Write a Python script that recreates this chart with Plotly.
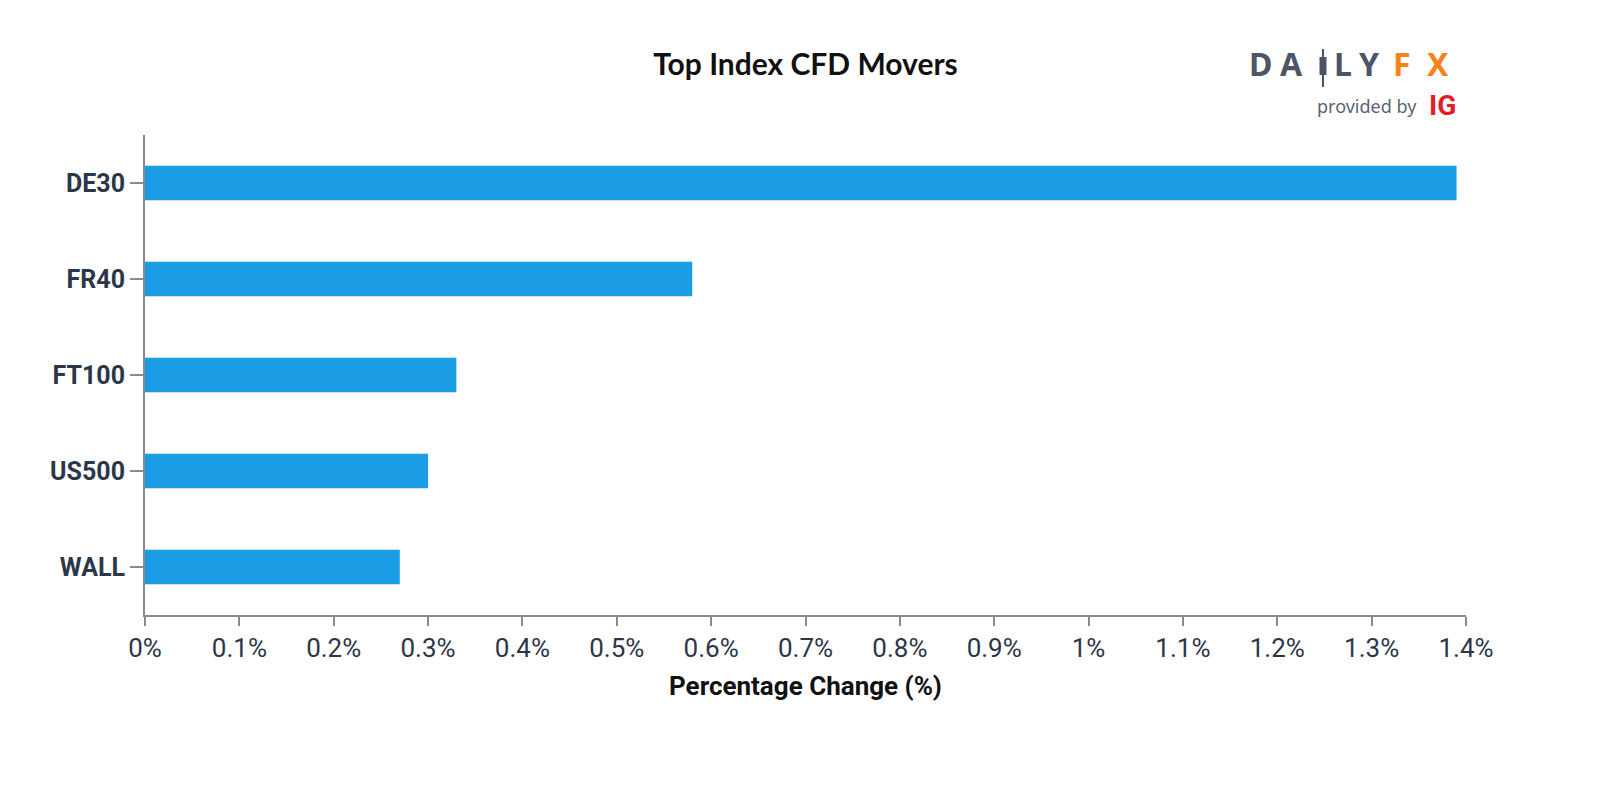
import plotly.graph_objects as go

# ---- data ----
categories = ["DE30", "FR40", "FT100", "US500", "WALL"]
pct_change = [1.39, 0.58, 0.33, 0.30, 0.27]
x_tick_vals = [0, 0.1, 0.2, 0.3, 0.4, 0.5, 0.6, 0.7, 0.8, 0.9, 1.0, 1.1, 1.2, 1.3, 1.4]
x_tick_labels = ["0%", "0.1%", "0.2%", "0.3%", "0.4%", "0.5%", "0.6%", "0.7%",
                 "0.8%", "0.9%", "1%", "1.1%", "1.2%", "1.3%", "1.4%"]

W, H = 1600, 800
L, R, T, B = 137, 142, 127, 193
PW, PH = W - L - R, H - T - B

def px(x):
    return (x - L) / PW

def py(y):
    return (H - B - y) / PH

AXIS = "#8a8a8a"
LABEL = "#2b3749"
BAR = "#1a9de5"

fig = go.Figure()
fig.add_trace(go.Bar(
    x=pct_change, y=categories, orientation="h",
    marker=dict(color=BAR, line=dict(width=0)),
    width=0.36, hoverinfo="skip",
))

fig.update_layout(
    width=W, height=H,
    margin=dict(l=L, r=R, t=T, b=B, autoexpand=False),
    paper_bgcolor="white", plot_bgcolor="white",
    showlegend=False,
    title=dict(text="Top Index CFD Movers", x=0.5, xref="paper", xanchor="center",
               y=1 - 56 / H, yref="container", yanchor="middle",
               font=dict(family="Lato", size=30, color="#111111", weight="bold")),
    xaxis=dict(
        range=[0, 1.4], tickmode="array", tickvals=x_tick_vals, ticktext=x_tick_labels,
        showgrid=False, zeroline=False, showline=True, linecolor=AXIS, linewidth=2,
        ticks="outside", ticklen=9, tickwidth=1.5, tickcolor=AXIS,
        tickfont=dict(family="Roboto", size=26, color=LABEL),
        title=dict(text="Percentage Change (%)", standoff=15,
                   font=dict(family="Roboto", size=26, color="#111111", weight="bold")),
        fixedrange=True,
    ),
    yaxis=dict(
        type="category", categoryorder="array", categoryarray=categories,
        range=[4.5, -0.5],
        showgrid=False, zeroline=False, showline=True, linecolor=AXIS, linewidth=2,
        ticks="outside", ticklen=13, tickwidth=1.5, tickcolor=AXIS,
        tickfont=dict(family="Roboto", size=25, color=LABEL, weight="bold"),
        fixedrange=True,
    ),
)

# outer ticks at the ends of the y axis (d3-style domain)
for yd in (0, 1):
    fig.add_shape(type="line", xref="x", yref="y domain", xsizemode="pixel", xanchor=0,
                  x0=-13, x1=0, y0=yd, y1=yd, line=dict(color=AXIS, width=2))

# ---- DailyFX logo ----
GRAY = "#4b5567"
ORANGE = "#f7821b"
letters = [("D", 1252, GRAY), ("A", 1283, GRAY), ("L", 1335, GRAY),
           ("Y", 1361, GRAY), ("F", 1394, ORANGE), ("X", 1430, ORANGE)]
for ch, xc, col in letters:
    fig.add_annotation(text=ch, xref="paper", yref="paper", x=px(xc), y=py(55),
                       xanchor="center", yanchor="middle", showarrow=False,
                       font=dict(family="Noto Sans", size=32, color=col, weight="bold"))
# candlestick "I"
fig.add_shape(type="line", xref="paper", yref="paper", x0=px(1315), x1=px(1315),
              y0=py(41), y1=py(79), line=dict(color=GRAY, width=2))
fig.add_shape(type="rect", xref="paper", yref="paper", x0=px(1311.5), x1=px(1318.5),
              y0=py(49), y1=py(67), line=dict(width=0), fillcolor=GRAY)
fig.add_annotation(text="provided by", xref="paper", yref="paper", x=px(1411), y=py(98),
                   xanchor="right", yanchor="middle", showarrow=False,
                   font=dict(family="Noto Sans", size=18, color="#5b6473"))
fig.add_annotation(text="IG", xref="paper", yref="paper", x=px(1419), y=py(97),
                   xanchor="left", yanchor="middle", showarrow=False,
                   font=dict(family="Roboto", size=28, color="#e21d26", weight="bold"))

fig.write_html("out.html", config={"displayModeBar": False})
